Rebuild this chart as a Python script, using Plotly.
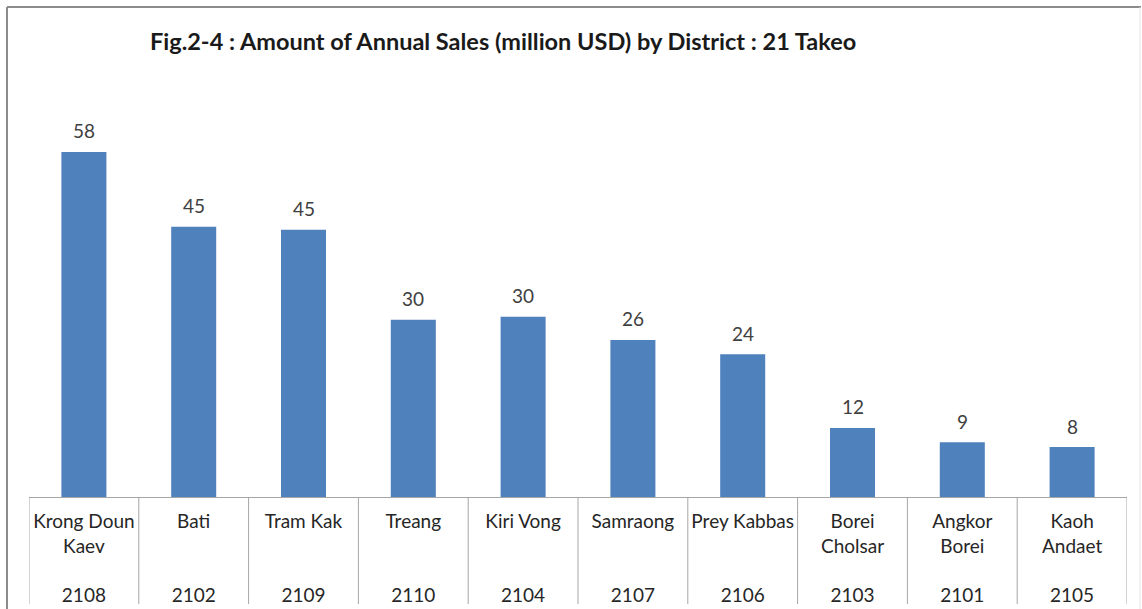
import plotly.graph_objects as go

districts = ["Krong Doun<br>Kaev", "Bati", "Tram Kak", "Treang", "Kiri Vong", "Samraong",
             "Prey Kabbas", "Borei<br>Cholsar", "Angkor<br>Borei", "Kaoh<br>Andaet"]
codes = ["2108", "2102", "2109", "2110", "2104", "2107", "2106", "2103", "2101", "2105"]
sales = [58.0, 45.4, 44.9, 29.8, 30.3, 26.4, 24.0, 11.6, 9.2, 8.4]

W, H = 1142, 609
L, R, T, B = 29, 15, 100, 112
PW, PH = W - L - R, H - T - B

def px_x(px):
    return (px - L) / PW

def px_y(py):
    return (H - B - py) / PH

labels = []
for d, c in zip(districts, codes):
    n = d.count("<br>") + 1
    labels.append(d + "<br>" * (4 - n) + c)

xs = list(range(len(districts)))

fig = go.Figure(go.Bar(
    x=xs, y=sales,
    marker=dict(color="#4F81BD", line=dict(width=0)),
    width=0.41,
    hoverinfo="skip",
))

annotations = []
for x, v in zip(xs, sales):
    annotations.append(dict(x=x, y=v, xref="x", yref="y", text=f"{v:.0f}",
                            showarrow=False, yanchor="middle", yshift=21,
                            font=dict(family="Lato", size=19, color="#404040")))

shapes = []
for i in range(len(districts) + 1):
    shapes.append(dict(type="line", xref="x", yref="paper", x0=i - 0.5, x1=i - 0.5,
                       y0=0, y1=px_y(604), line=dict(color="#A6A6A6", width=1)))
# outer chart border
shapes.append(dict(type="line", xref="paper", yref="paper", x0=px_x(7), x1=px_x(1141),
                   y0=px_y(7), y1=px_y(7), line=dict(color="#8C8C8C", width=2)))
shapes.append(dict(type="line", xref="paper", yref="paper", x0=px_x(7), x1=px_x(7),
                   y0=px_y(7), y1=px_y(609), line=dict(color="#8C8C8C", width=2)))
shapes.append(dict(type="line", xref="paper", yref="paper", x0=px_x(1140), x1=px_x(1140),
                   y0=px_y(7), y1=px_y(609), line=dict(color="#E6E6E6", width=1)))

fig.update_layout(
    width=W, height=H,
    margin=dict(l=L, r=R, t=T, b=B, autoexpand=False),
    paper_bgcolor="white", plot_bgcolor="white",
    showlegend=False,
    bargap=0.59,
    hovermode=False,
    font=dict(family="Lato", size=19, color="#262626"),
    title=dict(text="<b>Fig.2-4 : Amount of Annual Sales (million USD) by District : 21 Takeo</b>",
               x=px_x(150), xref="paper", xanchor="left",
               y=1 - 42 / H, yanchor="middle",
               font=dict(family="Lato", size=23.5, color="#1A1A1A"),
               automargin=False),
    xaxis=dict(
        tickmode="array", tickvals=xs, ticktext=labels,
        range=[-0.5, len(districts) - 0.5],
        showline=True, linecolor="#A6A6A6", linewidth=1,
        showgrid=False, zeroline=False, ticks="",
        ticklabelstandoff=7,
        automargin=False,
        tickfont=dict(family="Lato", size=19, color="#262626"),
        fixedrange=True,
    ),
    yaxis=dict(range=[0, PH / 5.95], visible=False, fixedrange=True, automargin=False),
    shapes=shapes,
    annotations=annotations,
)

fig.write_html(
    "out.html",
    config={"displayModeBar": False, "responsive": False, "staticPlot": True},
    post_script="document.body.style.margin='0';document.documentElement.style.overflow='hidden';",
)
